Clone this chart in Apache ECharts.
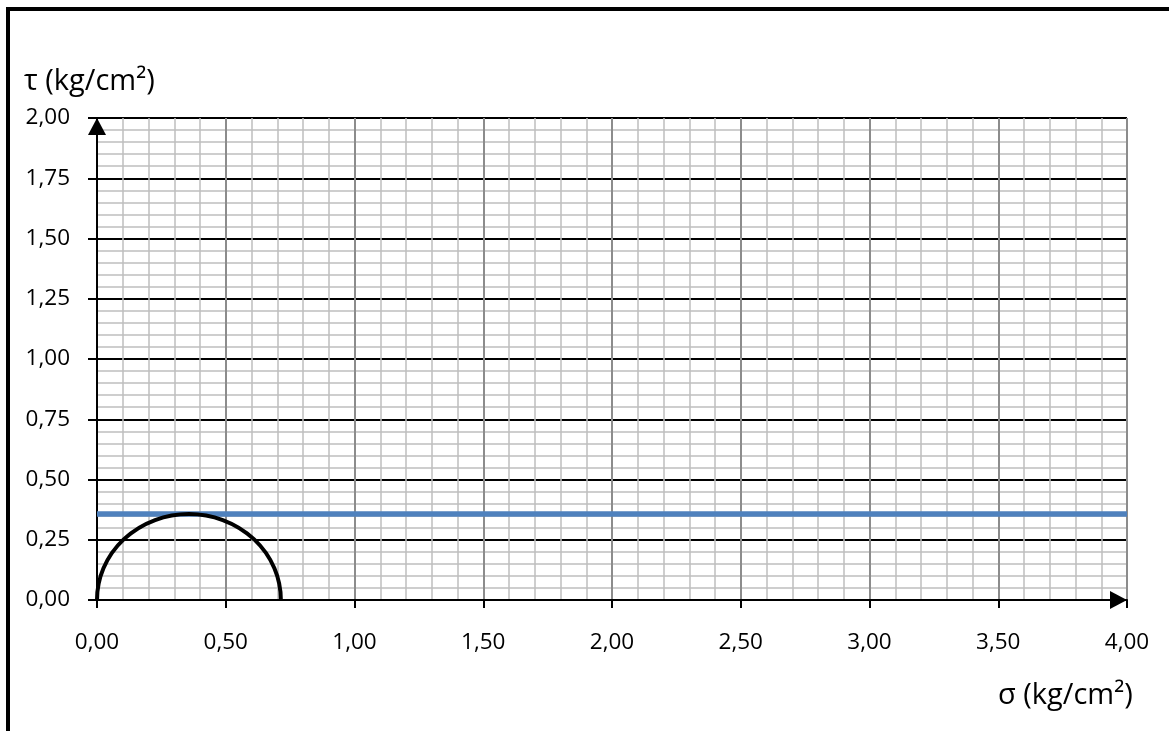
<!DOCTYPE html>
<html>
<head>
<meta charset="utf-8">
<script src="https://cdn.jsdelivr.net/npm/echarts@6/dist/echarts.min.js"></script>
<style>
html,body{margin:0;padding:0;background:#fff;}
#chart{width:1169px;height:731px;}
</style>
</head>
<body>
<div id="chart"></div>
<script>
// Axis ranges / ticks
const xMin = 0, xMax = 4, xStep = 0.5;
const yMin = 0, yMax = 2, yStep = 0.25;
const xTitle = 'σ (kg/cm²)';
const yTitle = 'τ (kg/cm²)';
// Failure envelope (horizontal line, c = 0.357)
const envelopeX = [0, 4];
const envelopeY = [0.357, 0.357];
// Mohr circle: principal stresses [sigma3, sigma1]
const mohrSigma3 = [0];
const mohrSigma1 = [0.714];

const fmt = v => v.toFixed(2).replace('.', ',');
const FONT = 'Open Sans';

const chart = echarts.init(document.getElementById('chart'), null, {renderer: 'canvas'});
chart.setOption({
  animation: false,
  backgroundColor: '#fff',
  grid: {left: 97, right: 42, top: 118, bottom: 131, containLabel: false},
  xAxis: {
    type: 'value', min: xMin, max: xMax, interval: xStep,
    axisLine: {show: true, lineStyle: {color: '#000', width: 2}, symbol: ['none', 'triangle'], symbolSize: [18, 17], symbolOffset: [0, -8.5]},
    axisTick: {show: true, inside: false, length: 8, lineStyle: {color: '#000', width: 2}},
    axisLabel: {margin: 31, fontFamily: FONT, fontSize: 22.5, color: '#000', formatter: fmt},
    splitLine: {show: true, lineStyle: {color: '#8c8c8c', width: 2}},
    minorTick: {show: false, splitNumber: 5},
    minorSplitLine: {show: true, lineStyle: {color: '#bfbfbf', width: 1.5}}
  },
  yAxis: {
    type: 'value', min: yMin, max: yMax, interval: yStep,
    axisLine: {show: true, lineStyle: {color: '#000', width: 2}, symbol: ['none', 'triangle'], symbolSize: [18, 17], symbolOffset: [0, -8.5]},
    axisTick: {show: true, inside: false, length: 9, lineStyle: {color: '#000', width: 2}},
    axisLabel: {margin: 27, fontFamily: FONT, fontSize: 22.5, color: '#000', formatter: fmt},
    splitLine: {show: true, lineStyle: {color: '#000', width: 2}},
    minorTick: {show: false, splitNumber: 5},
    minorSplitLine: {show: true, lineStyle: {color: '#bfbfbf', width: 1.5}}
  },
  graphic: [
    {type: 'rect', silent: true, shape: {x: 8, y: 9, width: 1400, height: 1000},
     style: {fill: 'none', stroke: '#000', lineWidth: 4}},
    {type: 'text', left: 24, top: 67, style: {text: yTitle, font: '29px "' + FONT + '"', fill: '#000'}},
    {type: 'text', left: 998, top: 681, style: {text: xTitle, font: '29px "' + FONT + '"', fill: '#000'}}
  ],
  series: [
    {
      type: 'line', name: 'envelope',
      data: envelopeX.map((x, i) => [x, envelopeY[i]]),
      showSymbol: false, symbol: 'none',
      lineStyle: {color: '#4f81bd', width: 5.5},
      z: 3
    },
    {
      type: 'custom', name: 'Mohr circle',
      data: mohrSigma3.map((s3, i) => [s3, mohrSigma1[i]]),
      renderItem: function (params, api) {
        const s3 = api.value(0), s1 = api.value(1);
        const c = (s3 + s1) / 2, r = (s1 - s3) / 2;
        const p0 = api.coord([s3, 0]);
        const p1 = api.coord([s1, 0]);
        const pc = api.coord([c, 0]);
        const pt = api.coord([c, r]);
        const rx = (p1[0] - p0[0]) / 2;
        const ry = pc[1] - pt[1];
        return {
          type: 'path',
          shape: {pathData: 'M' + p0[0] + ' ' + p0[1] + ' A' + rx + ' ' + ry + ' 0 0 1 ' + p1[0] + ' ' + p1[1]},
          style: {fill: 'none', stroke: '#000', lineWidth: 4}
        };
      },
      z: 4
    }
  ]
});
</script>
</body>
</html>
